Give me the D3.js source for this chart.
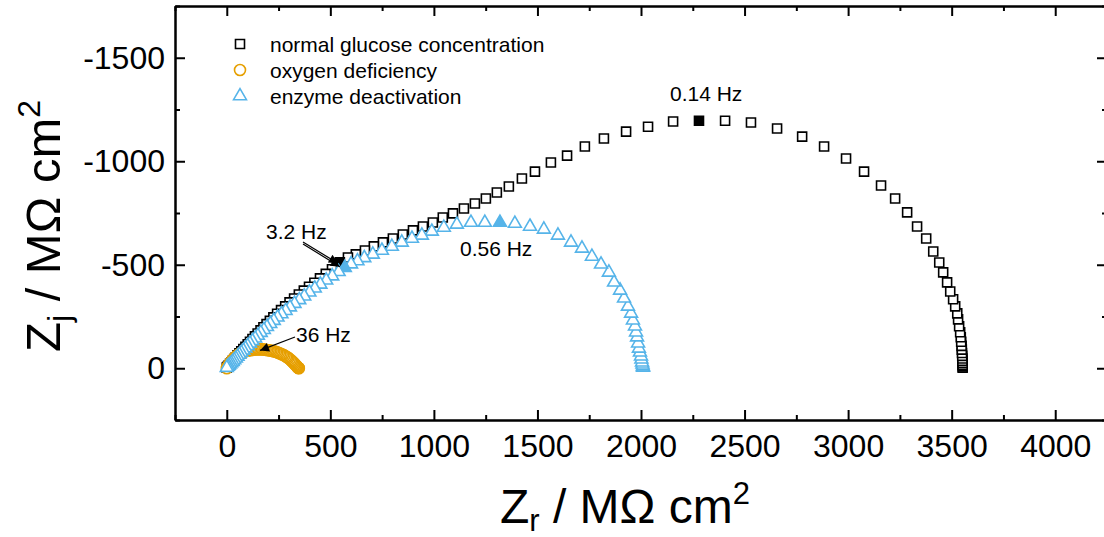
<!DOCTYPE html>
<html>
<head>
<meta charset="utf-8">
<script src="https://cdn.jsdelivr.net/npm/d3@7.9.0/dist/d3.min.js"></script>
<style>
  body { margin: 0; background: #fff; }
  svg { display: block; font-family: Arial, "Liberation Sans", sans-serif; }
  .axis path { stroke: #000; stroke-width: 2; }
  .axis line { stroke: #000; stroke-width: 2; }
  .axis text { font-size: 32px; fill: #000; }
</style>
</head>
<body>
<svg id="chart" width="1104" height="537"></svg>
<script>
// Nyquist data, high frequency (origin) -> low frequency
const glucoseZr = [0, 5, 10, 16, 22, 29, 36, 44, 52, 61, 70, 80, 90, 101, 112, 124, 136, 149, 163, 177, 192, 208, 225, 243, 262, 282, 303, 325, 348, 372, 397, 423, 450, 478, 508, 546, 585, 623, 667, 710, 754, 802, 850, 899, 947, 995, 1043, 1092, 1145, 1198, 1251, 1304, 1362, 1425, 1488, 1565, 1643, 1729, 1821, 1928, 2034, 2155, 2280, 2406, 2531, 2657, 2778, 2884, 2990, 3077, 3159, 3227, 3285, 3333, 3377, 3411, 3440, 3459, 3478, 3493, 3507, 3517, 3527, 3531, 3536, 3541, 3544, 3546, 3548, 3549, 3550, 3551, 3552, 3552, 3553, 3553, 3553, 3553];
const glucoseZj = [-3, -8, -14, -21, -28, -36, -44, -53, -62, -72, -82, -93, -104, -116, -128, -141, -154, -168, -183, -198, -213, -229, -246, -263, -281, -299, -318, -337, -356, -375, -394, -413, -434, -456, -478, -512, -535, -550, -569, -589, -608, -627, -646, -666, -685, -704, -728, -748, -772, -796, -820, -849, -878, -917, -950, -994, -1027, -1071, -1110, -1143, -1167, -1192, -1196, -1196, -1187, -1158, -1119, -1071, -1013, -950, -883, -820, -753, -685, -627, -564, -511, -463, -415, -371, -333, -299, -265, -236, -203, -174, -150, -128, -108, -90, -74, -60, -47, -36, -26, -17, -9, -3];

const oxygenZr = [0, 3, 6, 9, 13, 17, 21, 25, 30, 35, 40, 45, 51, 57, 63, 69, 76, 83, 90, 97, 104, 111, 118, 125, 132, 139, 146, 153, 160, 167, 174, 181, 188, 195, 202, 209, 216, 223, 230, 237, 244, 251, 258, 265, 272, 279, 286, 292, 298, 304, 310, 315, 320, 325, 329, 333, 337, 340, 343, 345, 347, 348];
const oxygenZj = [0, -5, -10, -15, -21, -27, -32, -37, -43, -48, -53, -57, -62, -66, -70, -73, -77, -80, -82, -84, -86, -87, -88, -89, -90, -91, -91, -91, -91, -91, -91, -90, -89, -88, -87, -86, -84, -83, -81, -79, -77, -74, -71, -68, -65, -61, -57, -53, -49, -44, -39, -34, -29, -24, -19, -15, -11, -7, -4, -2, -1, 0];

const enzymeZr = [0, 5, 10, 16, 22, 29, 36, 44, 52, 61, 70, 80, 90, 101, 112, 124, 137, 150, 164, 179, 194, 210, 227, 245, 264, 284, 305, 327, 350, 374, 399, 425, 452, 480, 509, 540, 570, 600, 631, 664, 705, 749, 797, 845, 894, 942, 990, 1048, 1111, 1179, 1246, 1319, 1391, 1464, 1531, 1599, 1662, 1715, 1763, 1807, 1845, 1870, 1899, 1918, 1937, 1952, 1961, 1971, 1976, 1981, 1986, 1990, 1995, 2000, 2002, 2005, 2007, 2009, 2010];
const enzymeZj = [-3, -8, -13, -19, -25, -32, -40, -48, -57, -66, -76, -86, -97, -108, -120, -132, -145, -158, -172, -186, -200, -215, -230, -246, -262, -278, -295, -312, -330, -348, -367, -386, -405, -425, -445, -466, -486, -503, -518, -533, -550, -569, -588, -608, -627, -642, -661, -680, -695, -704, -704, -704, -699, -685, -671, -642, -608, -579, -540, -502, -463, -415, -376, -338, -299, -265, -232, -203, -174, -150, -121, -96, -77, -58, -43, -29, -19, -10, -4];

// points drawn filled (index into the arrays above)
const glucoseFilled = [35, 62];
const oxygenFilled = [26];
const enzymeFilled = [36, 51];

const seriesNames = ['normal glucose concentration', 'oxygen deficiency', 'enzyme deactivation'];
const seriesColors = ['#000000', '#E69F00', '#56B4E9'];

const xMajor = [0, 500, 1000, 1500, 2000, 2500, 3000, 3500, 4000];
const xMinor = [-250, 250, 750, 1250, 1750, 2250, 2750, 3250, 3750, 4250];
const yMajor = [0, -500, -1000, -1500];
const yMinor = [250, -250, -750, -1250, -1750];

const svg = d3.select('#chart');
const plotL = 175, plotR = 1107, plotT = 6, plotB = 420;

const x = d3.scaleLinear().domain([-250, 4250]).range([plotL, plotR]);
const y = d3.scaleLinear().domain([250, -1750]).range([plotB, plotT]);
const plain = d => (d < 0 ? '-' : '') + Math.abs(d);

// axes, ticks inward on all four sides
function addAxis(axis, tx, ty, noLabel) {
  const g = svg.append('g').attr('class', 'axis').attr('transform', `translate(${tx},${ty})`).call(axis);
  if (noLabel) g.selectAll('text').remove();
  return g;
}
const gx = addAxis(d3.axisBottom(x).tickValues(xMajor).tickFormat(plain).tickSize(-10).tickSizeOuter(0).tickPadding(14), 0, plotB);
gx.selectAll('text').attr('dy', '0.72em');
addAxis(d3.axisBottom(x).tickValues(xMinor).tickSize(-5).tickSizeOuter(0).tickFormat(''), 0, plotB, true);
addAxis(d3.axisTop(x).tickValues(xMajor).tickSize(-10).tickSizeOuter(0), 0, plotT, true);
addAxis(d3.axisTop(x).tickValues(xMinor).tickSize(-5).tickSizeOuter(0), 0, plotT, true);
addAxis(d3.axisLeft(y).tickValues(yMajor).tickFormat(plain).tickSize(-10).tickSizeOuter(0).tickPadding(10), plotL, 0);
addAxis(d3.axisLeft(y).tickValues(yMinor).tickSize(-5).tickSizeOuter(0), plotL, 0, true);
addAxis(d3.axisRight(y).tickValues(yMajor).tickSize(-10).tickSizeOuter(0), plotR, 0, true);
addAxis(d3.axisRight(y).tickValues(yMinor).tickSize(-5).tickSizeOuter(0), plotR, 0, true);

// markers
const shapes = [d3.symbolSquare, d3.symbolCircle, d3.symbolTriangle];
const sizes = [81, 95, 72];

function drawSeries(zr, zj, filled, idx) {
  const pts = zr.map((v, i) => ({ zr: v, zj: zj[i], filled: filled.includes(i) }));
  pts.reverse();
  svg.append('g')
    .selectAll('path')
    .data(pts)
    .enter()
    .append('path')
    .attr('d', d3.symbol().type(shapes[idx]).size(sizes[idx]))
    .attr('transform', d => `translate(${x(d.zr)},${y(d.zj)})`)
    .attr('fill', d => d.filled ? seriesColors[idx] : '#fff')
    .attr('stroke', seriesColors[idx])
    .attr('stroke-width', 1.6);
}
drawSeries(glucoseZr, glucoseZj, glucoseFilled, 0);
drawSeries(oxygenZr, oxygenZj, oxygenFilled, 1);
drawSeries(enzymeZr, enzymeZj, enzymeFilled, 2);

// legend
seriesNames.forEach((name, i) => {
  const ly = 44 + i * 26;
  svg.append('path')
    .attr('d', d3.symbol().type(shapes[i]).size(sizes[i]))
    .attr('transform', `translate(240,${ly})`)
    .attr('fill', '#fff')
    .attr('stroke', seriesColors[i])
    .attr('stroke-width', 1.6);
  svg.append('text')
    .attr('x', 270).attr('y', ly + 7.5)
    .attr('font-size', 21)
    .text(name);
});

// frequency annotations
svg.append('defs').append('marker')
  .attr('id', 'arrow').attr('viewBox', '0 0 10 10')
  .attr('refX', 10).attr('refY', 5)
  .attr('markerWidth', 12).attr('markerHeight', 9)
  .attr('markerUnits', 'userSpaceOnUse')
  .attr('orient', 'auto')
  .append('path').attr('d', 'M0,0L10,5L0,10z').attr('fill', '#000');

function label(txt, lx, ly) {
  svg.append('text').attr('x', lx).attr('y', ly).attr('font-size', 21).text(txt);
}
function arrow(x1, y1, x2, y2) {
  svg.append('line')
    .attr('x1', x1).attr('y1', y1).attr('x2', x2).attr('y2', y2)
    .attr('stroke', '#000').attr('stroke-width', 1.2)
    .attr('marker-end', 'url(#arrow)');
}
label('0.14 Hz', 670, 101);
label('0.56 Hz', 460, 256);
label('3.2 Hz', 266, 239);
label('36 Hz', 296, 342);
arrow(303, 242, x(glucoseZr[35]) - 2, y(glucoseZj[35]) + 1);
arrow(303, 244, x(enzymeZr[36]) - 5, y(enzymeZj[36]) - 1);
arrow(295, 337, x(oxygenZr[26]) + 3, y(oxygenZj[26]) + 1);

// axis titles
const xt = svg.append('text').attr('x', 625).attr('y', 523)
  .attr('text-anchor', 'middle').attr('font-size', 48);
xt.append('tspan').text('Z');
xt.append('tspan').attr('font-size', 31).attr('dy', 8).text('r');
xt.append('tspan').attr('dy', -8).text(' / M\u03A9 cm');
xt.append('tspan').attr('font-size', 31).attr('dy', -19).text('2');

const yt = svg.append('text').attr('transform', 'translate(60,226) rotate(-90)')
  .attr('text-anchor', 'middle').attr('font-size', 49);
yt.append('tspan').text('Z');
yt.append('tspan').attr('font-size', 32).attr('dy', 10).text('j');
yt.append('tspan').attr('dy', -10).text(' / M\u03A9 cm');
yt.append('tspan').attr('font-size', 32).attr('dy', -20).text('2');
</script>
</body>
</html>
